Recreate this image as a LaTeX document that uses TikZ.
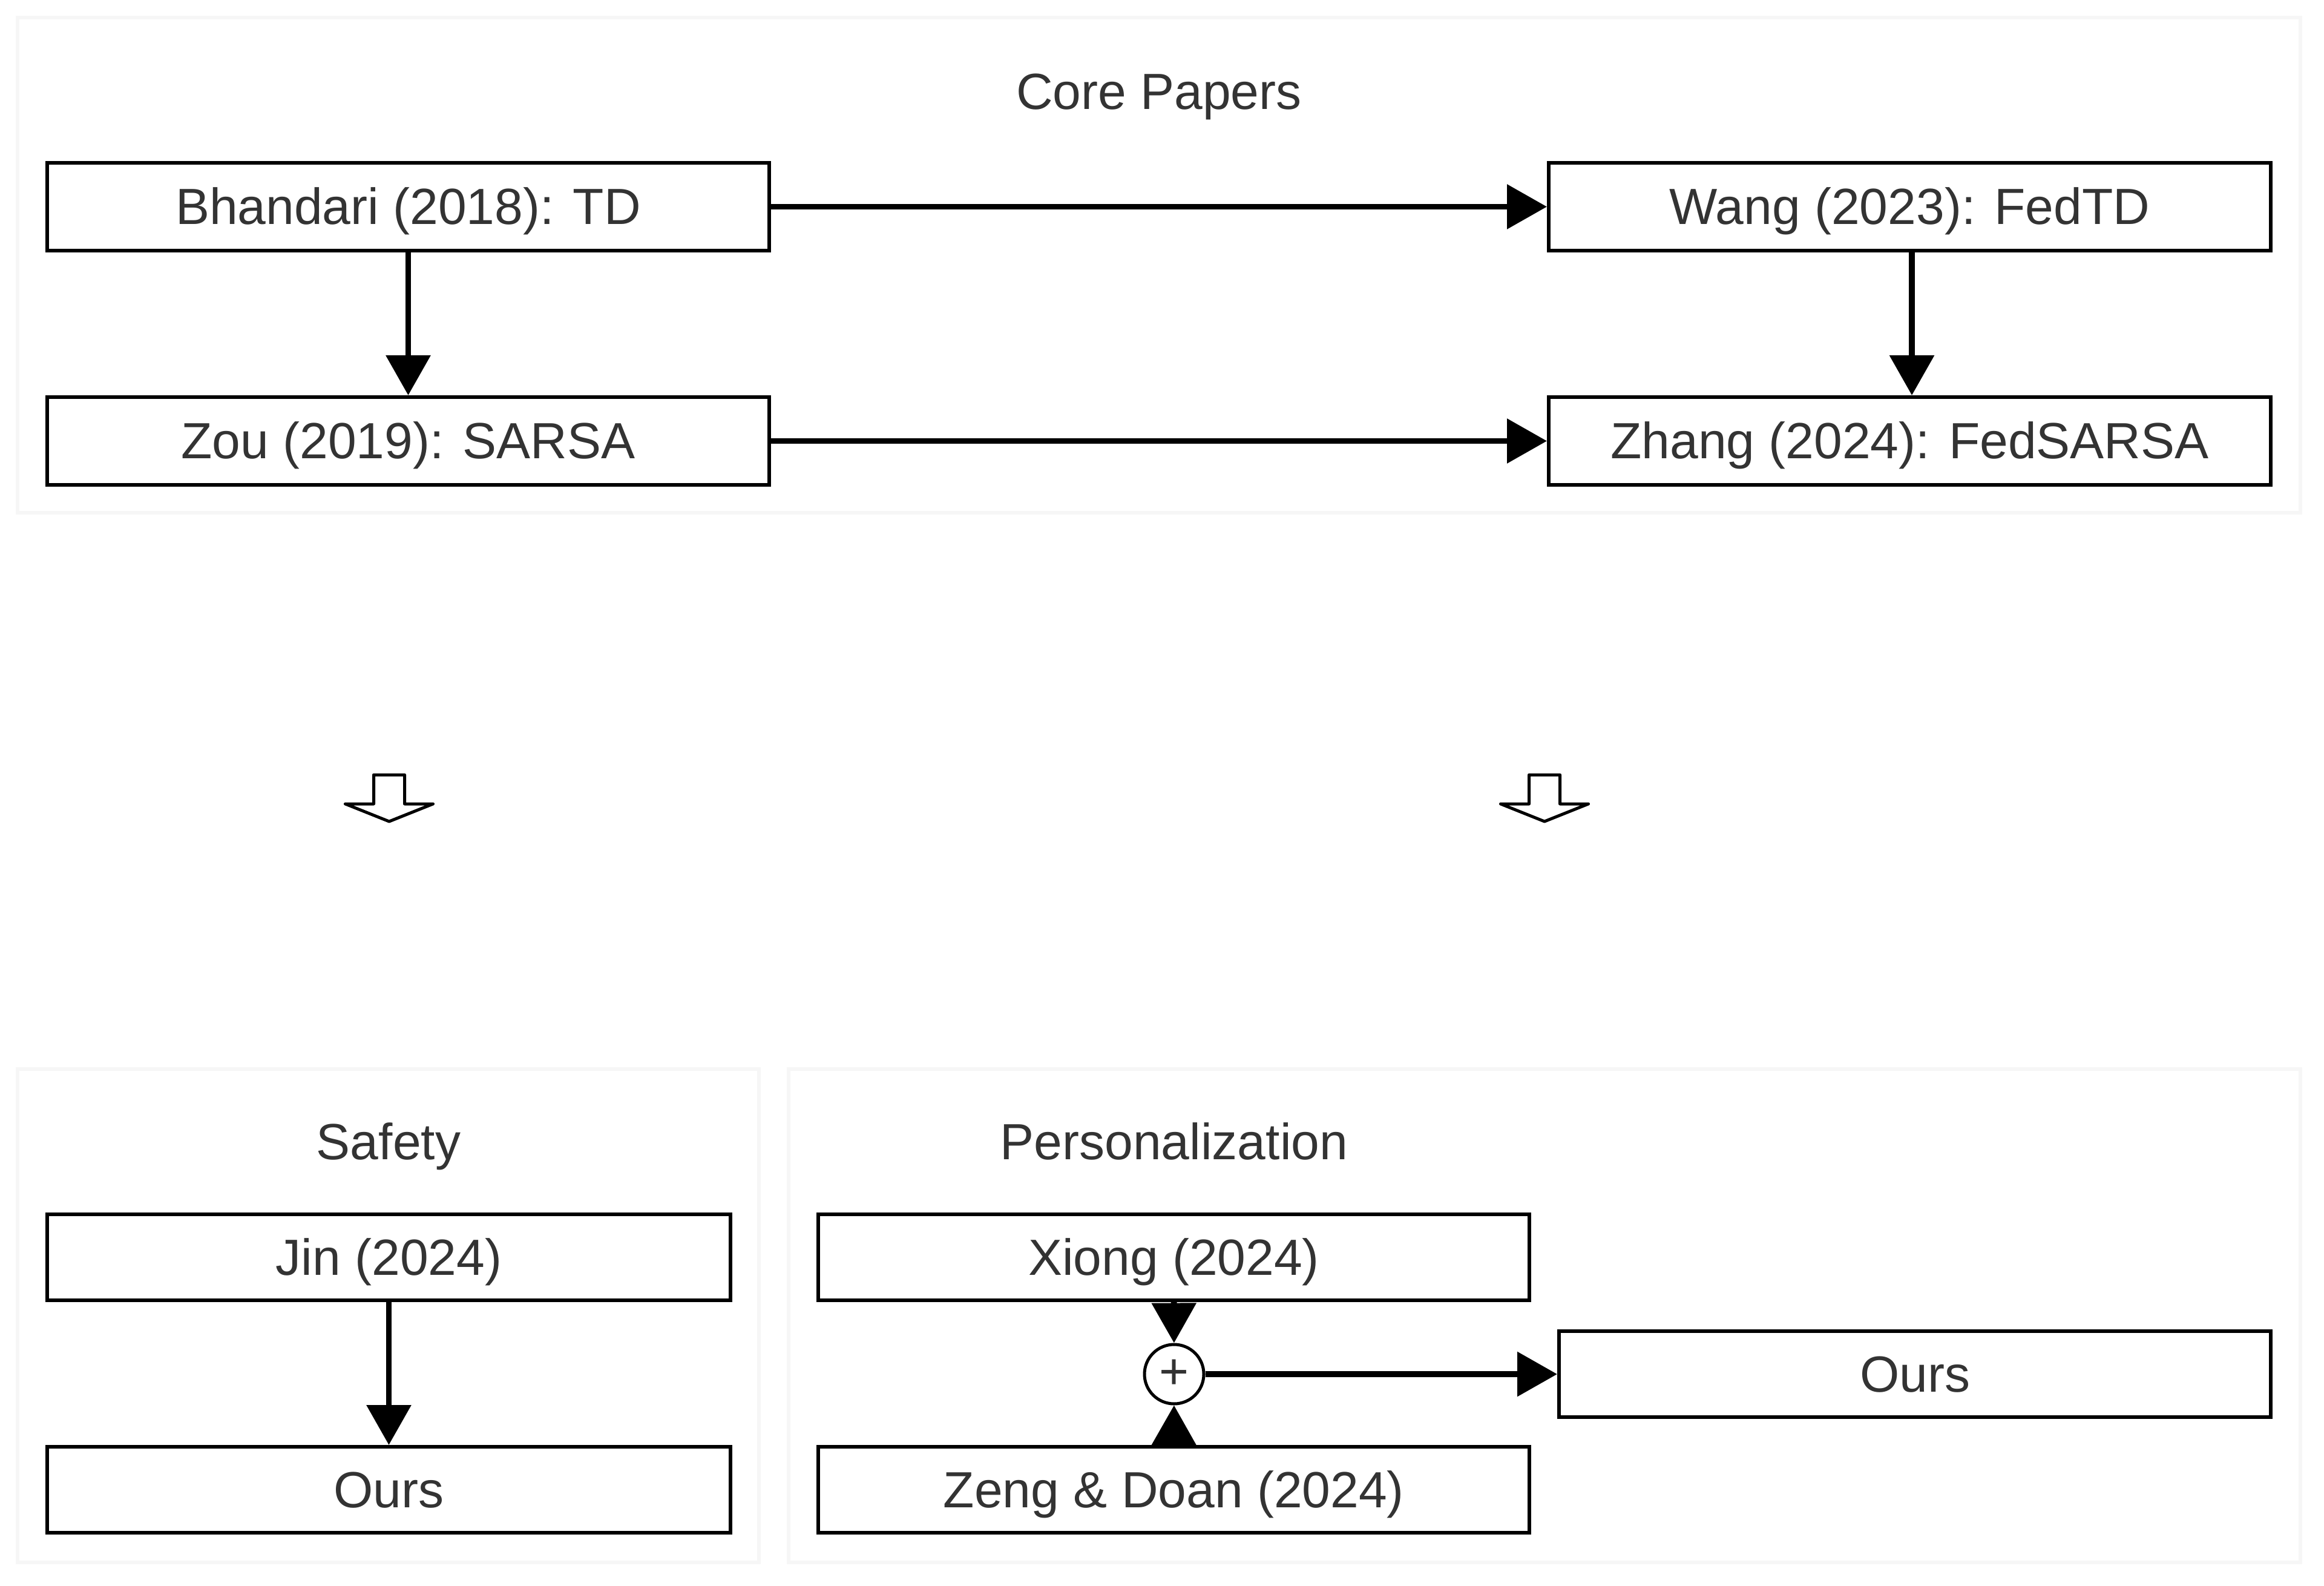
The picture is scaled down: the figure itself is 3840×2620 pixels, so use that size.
\documentclass[tikz,border=0pt]{standalone}
\usepackage{fontspec}
\setmainfont{Liberation Sans}
\usetikzlibrary{arrows.meta,shapes.geometric}
\definecolor{txt}{HTML}{333333}
\definecolor{clus}{HTML}{F6F6F6}
\tikzset{
  box/.style={draw=black, line width=1.5pt, rectangle, inner sep=0pt, text=txt,
    font=\fontsize{21}{25}\selectfont, text height=17pt, text depth=2.5pt},
  boxA/.style={box, minimum width=298.25pt, minimum height=36.25pt},
  boxB/.style={box, minimum width=282.25pt, minimum height=35.5pt},
  boxC/.style={box, minimum width=293.75pt, minimum height=35.5pt},
  boxD/.style={box, minimum width=294pt, minimum height=35.5pt},
  title/.style={text=txt, font=\fontsize{21}{25}\selectfont, inner sep=0pt,
    text height=17pt, text depth=2.5pt},
  plusnode/.style={draw=black, line width=1.25pt, circle, minimum size=24.5pt, inner sep=0pt,
    text=txt, font=\fontsize{21}{25}\selectfont},
  cluster/.style={draw=clus, line width=1.5pt},
  arr/.style={draw=black, line width=2.4pt, -{Triangle[length=16.5pt,width=18pt]}},
  hollow/.style={draw=black, line width=1.25pt, fill=white, line join=round}
}
\begin{document}
\begin{tikzpicture}[x=0.25pt, y=-0.25pt]
\useasboundingbox (0,0) rectangle (3840,2620);
\fill[white] (0,0) rectangle (3840,2620);
% clusters
\draw[cluster] (29,29) rectangle (3801,847);
\draw[cluster] (29,1766) rectangle (1254,2581);
\draw[cluster] (1303,1766) rectangle (3801,2581);
% titles
\node[title] (tcore) at (1915,152) {Core Papers};
\node[title] (tsafe) at (642,1886) {Safety};
\node[title] (tpers) at (1940,1886) {Personalization};
% core nodes
\node[boxA] (bh) at (674.5,341.5) {Bhandari (2018): TD};
\node[boxA] (wang) at (3155.5,341.5) {Wang (2023): FedTD};
\node[boxA] (zou) at (674.5,728.5) {Zou (2019): SARSA};
\node[boxA] (zhang) at (3155.5,728.5) {Zhang (2024): FedSARSA};
% safety
\node[boxB] (jin) at (642.5,2077) {Jin (2024)};
\node[boxB] (ours1) at (642.5,2461) {Ours};
% personalization
\node[boxC] (xiong) at (1939.5,2077) {Xiong (2024)};
\node[boxC] (zeng) at (1939.5,2461) {Zeng \& Doan (2024)};
\node[plusnode] (plus) at (1940,2270) {+};
\node[boxD] (ours2) at (3164,2270) {Ours};
% edges
\draw[arr] (bh) -- (wang);
\draw[arr] (zou) -- (zhang);
\draw[arr] (bh) -- (zou);
\draw[arr] (wang.south -| 3159,0) -- (zhang.north -| 3159,0);
\draw[arr] (jin) -- (ours1);
\draw[arr] (xiong) -- (plus);
\draw[arr] (zeng) -- (plus);
\draw[arr] (plus) -- (ours2);
% hollow arrows
\draw[hollow] (617.5,1280) -- (668.5,1280) -- (668.5,1328) -- (715.5,1328) -- (643,1357) -- (570.5,1328) -- (617.5,1328) -- cycle;
\draw[hollow] (2526.5,1280) -- (2577.5,1280) -- (2577.5,1328) -- (2624.5,1328) -- (2552,1357) -- (2479.5,1328) -- (2526.5,1328) -- cycle;
\end{tikzpicture}
\end{document}
